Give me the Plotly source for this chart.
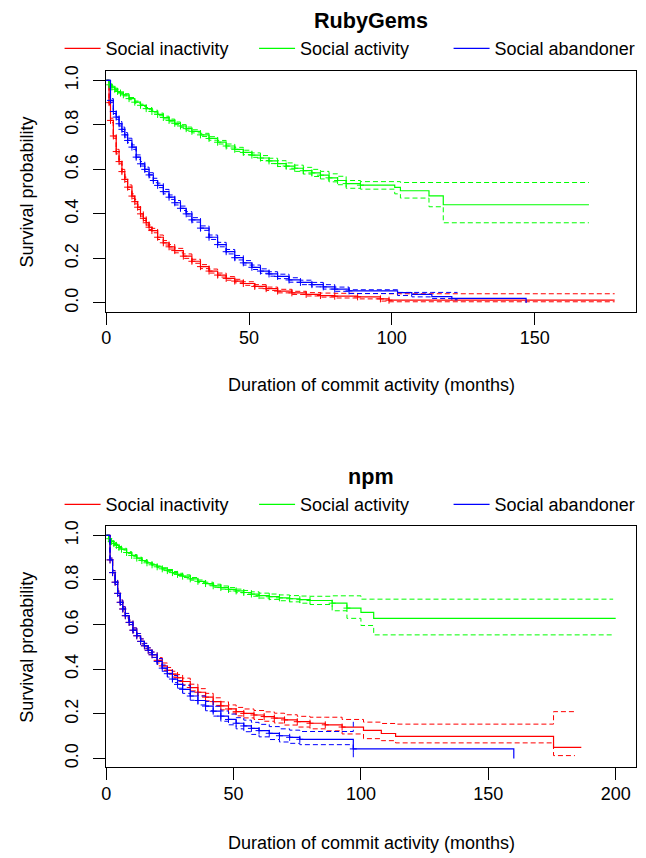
import plotly.graph_objects as go

# ---------------- RubyGems ----------------
rg_inact_t = [0, 1, 1.5, 2.5, 3.5, 4.5, 5.5, 6.5, 7.5, 9, 10, 11, 12, 13, 14, 15, 16, 18, 20, 22, 24, 27, 30, 33, 36, 39, 42, 45, 48, 52, 56, 60, 65, 70, 75, 80, 88, 96, 99, 178]
rg_inact_s = [1.0, 0.90, 0.82, 0.75, 0.68, 0.635, 0.59, 0.555, 0.52, 0.48, 0.455, 0.43, 0.40, 0.38, 0.36, 0.34, 0.325, 0.295, 0.27, 0.252, 0.235, 0.21, 0.187, 0.163, 0.143, 0.125, 0.11, 0.098, 0.087, 0.074, 0.064, 0.053, 0.045, 0.038, 0.033, 0.030, 0.027, 0.018, 0.012, 0.012]
rg_inact_ci_t = rg_inact_t
rg_inact_hi = [1.0, 0.908, 0.830, 0.760, 0.690, 0.645, 0.60, 0.565, 0.530, 0.490, 0.465, 0.44, 0.41, 0.39, 0.37, 0.35, 0.335, 0.305, 0.28, 0.262, 0.245, 0.22, 0.196, 0.172, 0.152, 0.134, 0.118, 0.106, 0.095, 0.082, 0.071, 0.061, 0.052, 0.046, 0.044, 0.043, 0.042, 0.042, 0.041, 0.041]
rg_inact_lo = [1.0, 0.892, 0.810, 0.740, 0.670, 0.625, 0.58, 0.545, 0.510, 0.470, 0.445, 0.42, 0.39, 0.37, 0.35, 0.33, 0.315, 0.285, 0.26, 0.242, 0.225, 0.20, 0.178, 0.154, 0.134, 0.116, 0.102, 0.090, 0.079, 0.066, 0.056, 0.045, 0.038, 0.031, 0.026, 0.022, 0.018, 0.008, 0.005, 0.005]

rg_act_t = [0, 1, 2, 3, 4, 5, 6, 8, 10, 12, 14, 16, 18, 20, 22, 24, 26, 28, 30, 33, 36, 39, 42, 45, 48, 51, 54, 57, 60, 63, 66, 69, 72, 75, 78, 81, 84, 89, 101, 103, 113, 118, 169]
rg_act_s = [1.0, 0.98, 0.97, 0.96, 0.95, 0.943, 0.935, 0.918, 0.902, 0.888, 0.873, 0.86, 0.847, 0.833, 0.82, 0.807, 0.795, 0.783, 0.771, 0.755, 0.739, 0.722, 0.705, 0.69, 0.676, 0.664, 0.651, 0.638, 0.626, 0.615, 0.605, 0.594, 0.584, 0.574, 0.562, 0.55, 0.536, 0.529, 0.519, 0.504, 0.481, 0.441, 0.441]
rg_act_ci_t = rg_act_t
rg_act_hi = [1.0, 0.984, 0.975, 0.965, 0.955, 0.948, 0.940, 0.923, 0.907, 0.893, 0.878, 0.866, 0.853, 0.839, 0.826, 0.813, 0.801, 0.790, 0.778, 0.762, 0.747, 0.730, 0.714, 0.699, 0.686, 0.674, 0.662, 0.650, 0.639, 0.629, 0.619, 0.609, 0.600, 0.591, 0.580, 0.569, 0.550, 0.545, 0.545, 0.541, 0.541, 0.541, 0.541]
rg_act_lo = [1.0, 0.976, 0.965, 0.955, 0.945, 0.938, 0.930, 0.913, 0.897, 0.883, 0.868, 0.854, 0.841, 0.827, 0.814, 0.801, 0.789, 0.776, 0.764, 0.748, 0.731, 0.714, 0.696, 0.681, 0.666, 0.654, 0.640, 0.626, 0.613, 0.601, 0.591, 0.579, 0.568, 0.557, 0.544, 0.531, 0.515, 0.511, 0.490, 0.471, 0.432, 0.36, 0.36]

rg_aband_t = [0, 1.5, 2.5, 3.5, 4.5, 5.5, 6.5, 7.5, 9, 10.5, 12, 13.5, 15, 16.5, 18, 20, 22, 24, 26, 28, 30, 33, 36, 39, 42, 45, 48, 51, 54, 57, 60, 64, 68, 72, 76, 80, 85, 102, 107, 114, 121, 147]
rg_aband_s = [1.0, 0.91, 0.86, 0.835, 0.805, 0.78, 0.755, 0.73, 0.70, 0.655, 0.625, 0.60, 0.575, 0.55, 0.528, 0.50, 0.475, 0.45, 0.425, 0.40, 0.373, 0.336, 0.295, 0.262, 0.23, 0.203, 0.18, 0.16, 0.143, 0.13, 0.119, 0.103, 0.092, 0.082, 0.072, 0.062, 0.054, 0.046, 0.038, 0.028, 0.02, 0.0]
rg_aband_ci_t = [0, 1.5, 2.5, 3.5, 4.5, 5.5, 6.5, 7.5, 9, 10.5, 12, 13.5, 15, 16.5, 18, 20, 22, 24, 26, 28, 30, 33, 36, 39, 42, 45, 48, 51, 54, 57, 60, 64, 68, 72, 76, 80, 85, 102, 107, 114, 121, 123]
rg_aband_hi = [1.0, 0.918, 0.869, 0.845, 0.815, 0.790, 0.765, 0.740, 0.710, 0.665, 0.635, 0.610, 0.585, 0.560, 0.538, 0.510, 0.485, 0.460, 0.435, 0.410, 0.383, 0.346, 0.305, 0.272, 0.240, 0.213, 0.190, 0.170, 0.153, 0.140, 0.129, 0.113, 0.102, 0.092, 0.082, 0.071, 0.059, 0.047, 0.047, 0.047, 0.047, 0.047]
rg_aband_lo = [1.0, 0.902, 0.851, 0.825, 0.795, 0.770, 0.745, 0.720, 0.690, 0.645, 0.615, 0.590, 0.565, 0.540, 0.518, 0.490, 0.465, 0.440, 0.415, 0.390, 0.363, 0.326, 0.285, 0.252, 0.220, 0.193, 0.170, 0.150, 0.133, 0.120, 0.109, 0.093, 0.082, 0.072, 0.062, 0.052, 0.042, 0.033, 0.027, 0.020, 0.014, 0.014]

# ---------------- npm ----------------
npm_inact_t = [0, 1.5, 2.5, 3.5, 4.5, 5.5, 6.5, 7.5, 9, 10.5, 12, 13.5, 15, 16.5, 18, 20, 22, 24, 26, 28, 30, 33, 36, 39, 42, 45, 48, 51, 54, 58, 62, 66, 70, 75, 80, 86, 92.6, 101, 108, 113.6, 175.6, 186.5]
npm_inact_s = [1.0, 0.89, 0.833, 0.79, 0.74, 0.70, 0.67, 0.64, 0.61, 0.575, 0.55, 0.525, 0.505, 0.485, 0.465, 0.44, 0.415, 0.395, 0.378, 0.362, 0.345, 0.318, 0.297, 0.275, 0.255, 0.236, 0.222, 0.21, 0.202, 0.195, 0.188, 0.181, 0.173, 0.165, 0.158, 0.151, 0.141, 0.126, 0.112, 0.099, 0.05, 0.05]
npm_inact_ci_t = [0, 1.5, 2.5, 3.5, 4.5, 5.5, 6.5, 7.5, 9, 10.5, 12, 13.5, 15, 16.5, 18, 20, 22, 24, 26, 28, 30, 33, 36, 39, 42, 45, 48, 51, 54, 58, 62, 66, 70, 75, 80, 86, 92.6, 101, 108, 113.6, 175.6, 184]
npm_inact_hi = [1.0, 0.898, 0.842, 0.80, 0.75, 0.71, 0.68, 0.65, 0.62, 0.585, 0.56, 0.536, 0.516, 0.496, 0.477, 0.452, 0.428, 0.408, 0.391, 0.376, 0.36, 0.333, 0.313, 0.292, 0.272, 0.254, 0.240, 0.229, 0.222, 0.215, 0.209, 0.203, 0.196, 0.189, 0.185, 0.185, 0.175, 0.163, 0.157, 0.154, 0.21, 0.21]
npm_inact_lo = [1.0, 0.882, 0.824, 0.78, 0.73, 0.69, 0.66, 0.63, 0.60, 0.565, 0.54, 0.514, 0.494, 0.474, 0.453, 0.428, 0.402, 0.382, 0.365, 0.348, 0.330, 0.303, 0.281, 0.258, 0.238, 0.218, 0.204, 0.191, 0.182, 0.175, 0.167, 0.159, 0.150, 0.141, 0.133, 0.124, 0.110, 0.089, 0.080, 0.070, 0.013, 0.013]

npm_act_t = [0, 1, 2, 3, 4, 5, 6, 8, 10, 12, 14, 16, 18, 20, 22, 24, 26, 28, 30, 33, 36, 39, 42, 45, 48, 51, 54, 57, 60, 64, 68, 72, 76, 80, 88.7, 94.5, 100, 105, 200]
npm_act_s = [1.0, 0.985, 0.972, 0.963, 0.955, 0.946, 0.938, 0.923, 0.91, 0.898, 0.887, 0.877, 0.868, 0.859, 0.85, 0.842, 0.833, 0.825, 0.817, 0.805, 0.794, 0.784, 0.774, 0.766, 0.758, 0.751, 0.744, 0.737, 0.73, 0.725, 0.72, 0.716, 0.712, 0.708, 0.696, 0.674, 0.655, 0.628, 0.628]
npm_act_ci_t = [0, 1, 2, 3, 4, 5, 6, 8, 10, 12, 14, 16, 18, 20, 22, 24, 26, 28, 30, 33, 36, 39, 42, 45, 48, 51, 54, 57, 60, 64, 68, 72, 76, 80, 88.7, 94.5, 100, 105, 199]
npm_act_hi = [1.0, 0.988, 0.976, 0.967, 0.959, 0.950, 0.942, 0.927, 0.914, 0.902, 0.891, 0.881, 0.872, 0.863, 0.855, 0.847, 0.838, 0.830, 0.823, 0.811, 0.800, 0.790, 0.781, 0.773, 0.766, 0.759, 0.753, 0.747, 0.741, 0.737, 0.733, 0.730, 0.728, 0.727, 0.729, 0.729, 0.714, 0.714, 0.714]
npm_act_lo = [1.0, 0.982, 0.968, 0.959, 0.951, 0.942, 0.934, 0.919, 0.906, 0.894, 0.883, 0.873, 0.864, 0.855, 0.845, 0.837, 0.828, 0.820, 0.811, 0.799, 0.788, 0.778, 0.767, 0.759, 0.750, 0.743, 0.735, 0.727, 0.719, 0.713, 0.707, 0.702, 0.696, 0.690, 0.662, 0.628, 0.596, 0.554, 0.554]

npm_aband_t = [0, 1.5, 2.5, 3.5, 4.5, 5.5, 6.5, 7.5, 9, 10.5, 12, 13.5, 15, 16.5, 18, 20, 22, 24, 26, 28, 30, 33, 36, 39, 42, 45, 48, 51, 54, 57, 60, 64, 68, 72, 76, 97, 160]
npm_aband_s = [1.0, 0.89, 0.833, 0.79, 0.74, 0.70, 0.67, 0.64, 0.61, 0.575, 0.55, 0.525, 0.505, 0.485, 0.465, 0.435, 0.405, 0.38, 0.356, 0.332, 0.31, 0.28, 0.26, 0.235, 0.212, 0.19, 0.175, 0.158, 0.146, 0.135, 0.125, 0.113, 0.102, 0.095, 0.086, 0.043, 0.0]
npm_aband_ci_t = [0, 1.5, 2.5, 3.5, 4.5, 5.5, 6.5, 7.5, 9, 10.5, 12, 13.5, 15, 16.5, 18, 20, 22, 24, 26, 28, 30, 33, 36, 39, 42, 45, 48, 51, 54, 57, 60, 64, 68, 72, 76, 97]
npm_aband_hi = [1.0, 0.898, 0.842, 0.80, 0.75, 0.71, 0.68, 0.65, 0.62, 0.585, 0.56, 0.536, 0.516, 0.496, 0.477, 0.448, 0.419, 0.395, 0.372, 0.349, 0.328, 0.299, 0.280, 0.256, 0.234, 0.213, 0.199, 0.183, 0.172, 0.162, 0.153, 0.143, 0.133, 0.127, 0.121, 0.17]
npm_aband_lo = [1.0, 0.882, 0.824, 0.78, 0.73, 0.69, 0.66, 0.63, 0.60, 0.565, 0.54, 0.514, 0.494, 0.474, 0.453, 0.422, 0.391, 0.365, 0.340, 0.315, 0.292, 0.261, 0.240, 0.214, 0.190, 0.167, 0.151, 0.133, 0.120, 0.108, 0.097, 0.085, 0.074, 0.068, 0.062, 0.0]

group_names = ["Social inactivity", "Social activity", "Social abandoner"]
colors = ["#FF0000", "#00FF00", "#0000FF"]

x_title = "Duration of commit activity (months)"
y_title = "Survival probability"
titles = ["RubyGems", "npm"]
y_ticks = [0.0, 0.2, 0.4, 0.6, 0.8, 1.0]
y_ticklabels = ["0.0", "0.2", "0.4", "0.6", "0.8", "1.0"]
rg_x_ticks = [0, 50, 100, 150]
npm_x_ticks = [0, 50, 100, 150, 200]

FONT = "Liberation Sans, Arial, Helvetica, sans-serif"
W, H = 646, 858

fig = go.Figure()


def add_group(t, s, ci_t, hi, lo, name, color, xa, ya, legend):
    for cv in (hi, lo):
        fig.add_trace(go.Scatter(x=ci_t, y=cv, mode="lines", line=dict(color=color, width=1, dash="5px,3px", shape="hv"),
                                 xaxis=xa, yaxis=ya, showlegend=False, hoverinfo="skip"))
    fig.add_trace(go.Scatter(x=t, y=s, mode="lines", name=name, line=dict(color=color, width=1.2, shape="hv"),
                             xaxis=xa, yaxis=ya, showlegend=True, legend=legend))
    mt = [a for a, b in zip(t[1:-1], s[1:-1]) if a < 100]
    ms = [b for a, b in zip(t[1:-1], s[1:-1]) if a < 100]
    fig.add_trace(go.Scatter(x=mt, y=ms, mode="markers",
                             marker=dict(symbol="cross-thin", size=5, line=dict(color=color, width=1)),
                             xaxis=xa, yaxis=ya, showlegend=False, hoverinfo="skip"))


rg = [(rg_inact_t, rg_inact_s, rg_inact_ci_t, rg_inact_hi, rg_inact_lo),
      (rg_act_t, rg_act_s, rg_act_ci_t, rg_act_hi, rg_act_lo),
      (rg_aband_t, rg_aband_s, rg_aband_ci_t, rg_aband_hi, rg_aband_lo)]
npm = [(npm_inact_t, npm_inact_s, npm_inact_ci_t, npm_inact_hi, npm_inact_lo),
       (npm_act_t, npm_act_s, npm_act_ci_t, npm_act_hi, npm_act_lo),
       (npm_aband_t, npm_aband_s, npm_aband_ci_t, npm_aband_hi, npm_aband_lo)]

for g, nm, c in zip(rg, group_names, colors):
    add_group(*g, nm, c, "x", "y", "legend")
for g, nm, c in zip(npm, group_names, colors):
    add_group(*g, nm, c, "x2", "y2", "legend2")

# geometry (pixels)
box_l, box_r = 102, 636
top_t, top_b = 66, 308.3
bot_t, bot_b = 524.7, 767.7


def px(v):
    return v / W


def py(v):
    return (H - v) / H


axis_common = dict(showline=True, mirror=True, linecolor="black", linewidth=1, ticks="outside", ticklen=12,
                   tickwidth=1, tickcolor="black", showgrid=False, zeroline=False,
                   tickfont=dict(family=FONT, size=18, color="black"))

legend_common = dict(orientation="h", xanchor="left", yanchor="middle", itemwidth=36,
                     entrywidth=143.5, entrywidthmode="pixels", bgcolor="rgba(0,0,0,0)",
                     font=dict(family=FONT, size=18, color="black"), traceorder="normal")

fig.update_layout(
    width=W, height=H, margin=dict(l=0, r=0, t=0, b=0),
    paper_bgcolor="white", plot_bgcolor="white",
    font=dict(family=FONT, size=18, color="black"),
    xaxis=dict(domain=[px(box_l), px(box_r)], range=[0, 185.5], tickvals=rg_x_ticks, anchor="y",
               ticklabelstandoff=-2, **axis_common),
    yaxis=dict(domain=[py(top_b), py(top_t)], range=[-0.04, 1.04], tickvals=y_ticks, ticktext=y_ticklabels,
               tickangle=-90, anchor="x", ticklabelstandoff=8, **axis_common),
    xaxis2=dict(domain=[px(box_l), px(box_r)], range=[0, 208], tickvals=npm_x_ticks, anchor="y2",
                ticklabelstandoff=-2, **axis_common),
    yaxis2=dict(domain=[py(bot_b), py(bot_t)], range=[-0.04, 1.04], tickvals=y_ticks, ticktext=y_ticklabels,
                tickangle=-90, anchor="x2", ticklabelstandoff=8, **axis_common),
    legend=dict(x=px(55), y=py(43), **legend_common),
    legend2=dict(x=px(55), y=py(502.7), **legend_common),
)

annotations = []
for title, yt in ((titles[0], 15), (titles[1], 474)):
    annotations.append(dict(text="<b>%s</b>" % title, x=px((box_l + box_r) / 2), y=py(yt), xref="paper", yref="paper",
                            showarrow=False, xanchor="center", yanchor="middle",
                            font=dict(family=FONT, size=21.6, color="black")))
for yt in (382, 844):
    annotations.append(dict(text=x_title, x=px((box_l + box_r) / 2), y=py(yt), xref="paper", yref="paper",
                            showarrow=False, xanchor="center", yanchor="middle",
                            font=dict(family=FONT, size=18, color="black")))
for yc in ((top_t + top_b) / 2, (bot_t + bot_b) / 2):
    annotations.append(dict(text=y_title, x=px(22), y=py(yc), xref="paper", yref="paper", textangle=-90,
                            showarrow=False, xanchor="center", yanchor="middle",
                            font=dict(family=FONT, size=18, color="black")))
fig.update_layout(annotations=annotations)

fig.write_html("out.html")
